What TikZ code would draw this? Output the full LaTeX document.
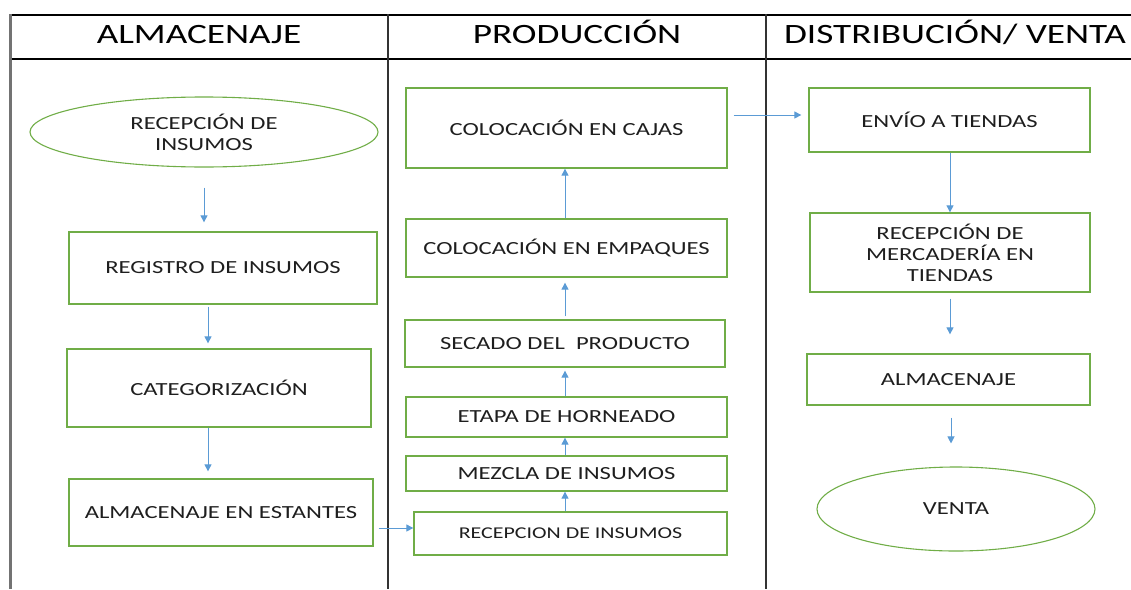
\documentclass[tikz,border=0pt]{standalone}
\usepackage{fontspec}
\setmainfont{Carlito}[FakeStretch=1.33]
\usetikzlibrary{shapes.geometric,arrows.meta}
\definecolor{boxgreen}{HTML}{70AD47}
\definecolor{arrblue}{HTML}{5B9BD5}
\definecolor{txt}{HTML}{1E1E1E}
\tikzset{
  box/.style={draw=boxgreen, line width=1.3pt, rectangle, inner sep=0pt, align=center,
    text=txt, font=\fontsize{18.5}{21}\selectfont},
  oval/.style={draw=boxgreen, line width=1.1pt, ellipse, inner sep=0pt, align=center,
    text=txt, font=\fontsize{18.5}{21}\selectfont},
  arr/.style={draw=arrblue, line width=1pt, -{Triangle[length=7pt,width=7pt]}},
  head/.style={text=black, font=\fontsize{28}{30}\selectfont, inner sep=0pt, anchor=base},
  frame/.style={draw=black, line width=1.6pt},
  divider/.style={draw=black!80, line width=2pt},
}
\begin{document}
\begin{tikzpicture}[x=1pt,y=-1pt]
\useasboundingbox (0,0) rectangle (1131,589);
% frame
\draw[frame] (10,15) -- (1131,15);
\draw[frame] (10,59) -- (1131,59);
\draw[draw=black!55, line width=3pt] (10,14) -- (10,589);
\draw[divider] (388,14) -- (388,589);
\draw[divider] (766,14) -- (766,589);
% headings
\node[head] (h1) at (199,43) {ALMACENAJE};
\node[head] (h2) at (577,43) {PRODUCCIÓN};
\node[head] (h3) at (955,43) {DISTRIBUCIÓN/ VENTA};
% column 1
\node[oval, minimum width=348pt, minimum height=70pt] (e1) at (204,132) {RECEPCIÓN DE\\INSUMOS};
\node[box, minimum width=308pt, minimum height=72pt] (r1) at (223,268) {REGISTRO DE INSUMOS};
\node[box, minimum width=304pt, minimum height=78pt] (r2) at (219,388) {CATEGORIZACIÓN};
\node[box, minimum width=304pt, minimum height=67pt] (r3) at (221,512.5) {ALMACENAJE EN ESTANTES};
% column 2
\node[box, minimum width=321pt, minimum height=80pt] (c1) at (566.5,128) {COLOCACIÓN EN CAJAS};
\node[box, minimum width=321pt, minimum height=58pt] (c2) at (566.5,248) {COLOCACIÓN EN EMPAQUES};
\node[box, minimum width=320pt, minimum height=47pt] (c3) at (565,343.5) {SECADO DEL\ \ PRODUCTO};
\node[box, minimum width=321pt, minimum height=40pt] (c4) at (566.5,417) {ETAPA DE HORNEADO};
\node[box, minimum width=321pt, minimum height=35pt] (c5) at (566.5,473.5) {MEZCLA DE INSUMOS};
\node[box, minimum width=313pt, minimum height=43pt, font=\fontsize{16.5}{19}\selectfont] (p1) at (570.5,533.5) {RECEPCION DE INSUMOS};
% column 3
\node[box, minimum width=281pt, minimum height=64pt] (d1) at (949.5,120) {ENVÍO A TIENDAS};
\node[box, minimum width=280pt, minimum height=79pt] (d2) at (950,252.5) {RECEPCIÓN DE\\MERCADERÍA EN\\TIENDAS};
\node[box, minimum width=283pt, minimum height=51pt] (d3) at (948.5,379.5) {ALMACENAJE};
\node[oval, minimum width=278pt, minimum height=84pt] (e2) at (956,509) {VENTA};
% arrows column 1
\draw[arr] ([yshift=-20pt]e1.south) -- ([yshift=9pt]r1.north -| e1.south);
\draw[arr] ([xshift=-15pt,yshift=-2pt]r1.south) -- ([xshift=-11pt,yshift=5pt]r2.north);
\draw[arr] ([xshift=-11pt]r2.south) -- ([xshift=-13pt,yshift=7pt]r3.north);
\draw[arr] ([xshift=5pt,yshift=-15.5pt]r3.east) -- ([yshift=5.5pt]p1.west);
% arrows column 2
\draw[arr] (p1.north -| c3.south) -- (c5.south -| c3.south);
\draw[arr] (c5.north -| c3.south) -- (c4.south -| c3.south);
\draw[arr] (c4.north -| c3.south) -- ([yshift=-3pt]c3.south);
\draw[arr] ([yshift=3pt]c3.north) -- ([yshift=-5pt]c2.south -| c3.north);
\draw[arr] (c2.north -| c3.north) -- (c1.south -| c3.north);
% cross arrow
\draw[arr] ([xshift=6pt,yshift=13pt]c1.east) -- ([xshift=-7pt,yshift=5pt]d1.west);
% arrows column 3
\draw[arr] (d1.south -| d2.north) -- (d2.north);
\draw[arr] ([yshift=-6pt]d2.south) -- ([yshift=19pt]d3.north -| d2.south);
\draw[arr] ([xshift=2.5pt,yshift=-12pt]d3.south) -- ([xshift=2.5pt,yshift=23pt]e2.north -| d3.south);
\end{tikzpicture}
\end{document}
